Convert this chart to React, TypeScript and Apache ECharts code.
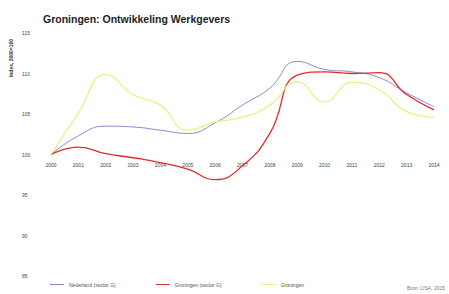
import React, { useEffect, useRef } from "react";
import * as echarts from "echarts";

const years = ["2000","2001","2002","2003","2004","2005","2006","2007","2008","2009","2010","2011","2012","2013","2014"];
const nederland = [100, 102.3, 103.5, 103.4, 103.0, 102.6, 103.9, 106.1, 108.2, 111.5, 110.5, 110.2, 109.5, 107.6, 105.9];
const groningenSector = [100, 100.9, 100.1, 99.6, 99.0, 98.2, 96.9, 98.6, 102.6, 109.8, 110.2, 110.0, 110.1, 107.4, 105.5];
const groningen = [100, 105.1, 109.9, 107.4, 106.1, 103.0, 104.0, 104.6, 106.1, 109.0, 106.5, 108.9, 108.0, 105.3, 104.6];
const seriesNames = ["Nederland (sector G)", "Groningen (sector G)", "Groningen"];

export default function App() {
  const ref = useRef<HTMLDivElement>(null);
  useEffect(() => {
    const chart = echarts.init(ref.current!, null, { renderer: "svg" });
    const mk = (name: string, data: number[], color: string, width: number) => ({
      name, type: "line", data, smooth: true, symbol: "none",
      lineStyle: { color, width }, itemStyle: { color },
    });
    chart.setOption({
      animation: false,
      backgroundColor: "#ffffff",
      title: {
        text: "Groningen: Ontwikkeling Werkgevers",
        left: 38, top: 8,
        textStyle: { fontFamily: "Liberation Sans", fontWeight: "bold", fontSize: 10.5, color: "#222" },
      },
      grid: { left: 51, right: 15, top: 33, bottom: 18 },
      legend: {
        bottom: 2, left: 45, itemWidth: 14, itemHeight: 1, itemGap: 40,
        icon: "rect",
        textStyle: { fontSize: 5, color: "#555", fontFamily: "Liberation Sans" },
        data: seriesNames,
      },
      xAxis: {
        type: "category", data: years, boundaryGap: false, offset: -122,
        axisLine: { show: false }, axisTick: { show: false },
        axisLabel: { fontSize: 5, color: "#444", margin: 8, fontFamily: "Liberation Sans" },
      },
      yAxis: {
        type: "value", min: 85, max: 115, interval: 5,
        splitLine: { show: false }, axisLine: { show: false }, axisTick: { show: false },
        axisLabel: { fontSize: 5, color: "#444", margin: 29, align: "left", fontFamily: "Liberation Sans" },
      },
      graphic: [
        { type: "text", x: 11, y: 58, rotation: Math.PI / 2,
          style: { text: "Index, 2000=100", fontSize: 5, fontWeight: "bold", fill: "#333", align: "center", verticalAlign: "middle", fontFamily: "Liberation Sans" } },
        { type: "text", right: 4, bottom: 4, style: { text: "Bron: LISA, 2015", fontSize: 5, fill: "#777", fontFamily: "Liberation Sans" } },
      ],
      series: [
        mk(seriesNames[0], nederland, "#8888d8", 1),
        mk(seriesNames[1], groningenSector, "#e02c2c", 1.3),
        mk(seriesNames[2], groningen, "#eeee88", 1.3),
      ],
    });
    return () => chart.dispose();
  }, []);
  return <div ref={ref} style={{ width: 449, height: 294, position: "absolute", left: 0, top: 0 }} />;
}
